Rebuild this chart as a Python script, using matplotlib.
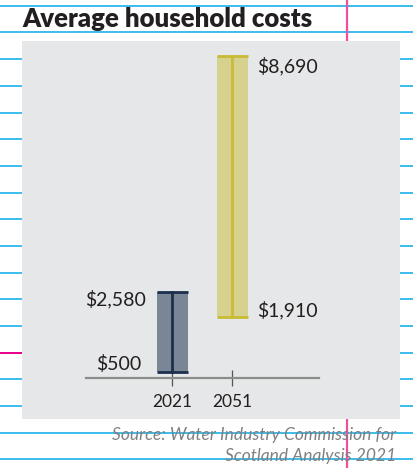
import matplotlib
matplotlib.use("Agg")
import matplotlib.pyplot as plt
from matplotlib.lines import Line2D
from matplotlib.patches import Rectangle

# Data
years = ["2021", "2051"]
low_costs = [500, 1910]
high_costs = [2580, 8690]
fill_colors = ["#7a8595", "#d6d18f"]
line_colors = ["#1c2f4c", "#c9bb36"]

W, H = 413, 468
fig = plt.figure(figsize=(W / 100, H / 100), dpi=100)
fig.patch.set_facecolor("white")


def fx(px):
    return px / W


def fy(py):
    return 1 - py / H


# design guide lines behind everything
for gy in [5.5, 32, 59, 86, 112.5, 139, 166, 192.5, 219, 246, 272.5, 299, 326, 352.5, 379, 405.5, 432.5, 459]:
    fig.add_artist(Line2D([0, 1], [fy(gy), fy(gy)], color="#1ab0e8", lw=1.2, zorder=0))
fig.add_artist(Line2D([0, fx(22)], [fy(352.5), fy(352.5)], color="#ec008c", lw=1.4, zorder=0.5))
fig.add_artist(Line2D([fx(346.7), fx(346.7)], [0, 1], color="#ef4fa0", lw=1.6, zorder=0.5))

# grey panel
fig.add_artist(Rectangle((fx(22), fy(418.5)), fx(378), (418.5 - 41) / H,
                         facecolor="#e6e7e8", edgecolor="none", zorder=1))

fig.text(fx(22), fy(27), "Average household costs", fontsize=18.5, fontweight="heavy",
         color="#231f20", family="Lato", ha="left", va="baseline", zorder=3)

src_kw = dict(fontsize=12.5, style="italic", color="#808080", family="Lato",
              ha="right", va="center", zorder=3)
fig.text(fx(396), fy(435), "Source: Water Industry Commission for", **src_kw)
fig.text(fx(396), fy(456.5), "Scotland Analysis 2021", **src_kw)

# chart axes
ax = fig.add_axes([fx(85.7), fy(377.7), fx(319.3 - 85.7), (377.7 - 41) / H], zorder=2)
ax.patch.set_alpha(0)
ax.set_xlim(-1.443, 2.45)
ax.set_ylim(345, 9091)
for s in ["top", "right", "left"]:
    ax.spines[s].set_visible(False)
ax.spines["bottom"].set_color("#8c8c8c")
ax.spines["bottom"].set_linewidth(1.6)
ax.set_yticks([])
ax.set_xticks(range(len(years)))
ax.set_xticklabels(years, family="Lato", fontsize=12.5, color="#231f20")
ax.tick_params(axis="x", direction="inout", length=11, width=0.9, color="#555555", pad=6)

bw = 0.52
for i, (lo, hi) in enumerate(zip(low_costs, high_costs)):
    ax.bar(i, hi - lo, bottom=lo, width=bw, color=fill_colors[i], edgecolor="none", zorder=2)
    ax.plot([i - bw / 2, i + bw / 2], [hi, hi], color=line_colors[i], lw=2, solid_capstyle="butt", zorder=3)
    ax.plot([i - bw / 2, i + bw / 2], [lo, lo], color=line_colors[i], lw=2, solid_capstyle="butt", zorder=3)
    ax.plot([i, i], [lo, hi], color=line_colors[i], lw=2, zorder=3)

lab_kw = dict(family="Lato", fontsize=14, color="#231f20", va="center",
              textcoords="offset points")
ax.annotate(f"${high_costs[0]:,}", (0 - bw / 2, high_costs[0]), xytext=(-8, -5), ha="right", **lab_kw)
ax.annotate(f"${low_costs[0]:,}", (0 - bw / 2, low_costs[0]), xytext=(-11, 5.5), ha="right", **lab_kw)
ax.annotate(f"${high_costs[1]:,}", (1 + bw / 2, high_costs[1]), xytext=(6.5, -7), ha="left", **lab_kw)
ax.annotate(f"${low_costs[1]:,}", (1 + bw / 2, low_costs[1]), xytext=(6.5, 5), ha="left", **lab_kw)

fig.savefig("out.png", dpi=100)
